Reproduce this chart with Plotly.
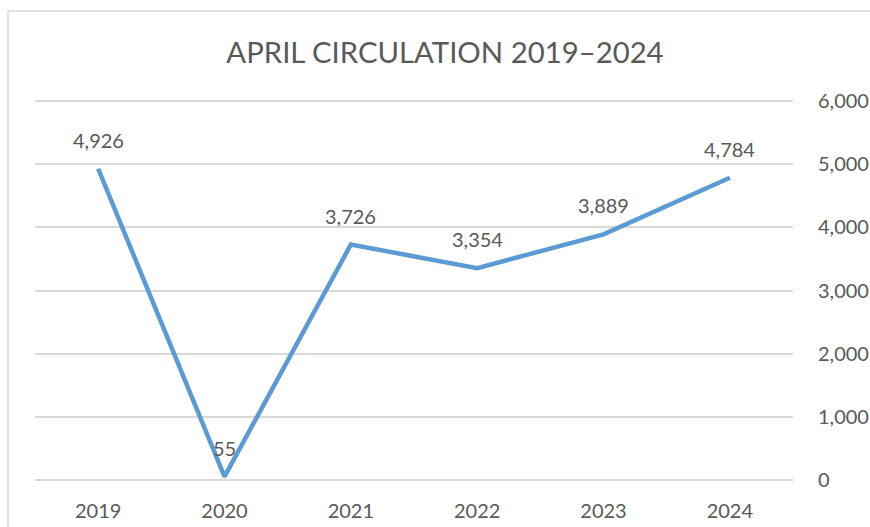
import plotly.graph_objects as go

years = ["2019", "2020", "2021", "2022", "2023", "2024"]
circulation = [4926, 55, 3726, 3354, 3889, 4784]
y_ticks = [0, 1000, 2000, 3000, 4000, 5000, 6000]
title_text = "APRIL CIRCULATION 2019–2024"

FONT = "Lato, sans-serif"
TXT = "#595959"
W, H = 870, 527

fig = go.Figure()
fig.add_trace(go.Scatter(
    x=years, y=circulation, mode="lines",
    line=dict(color="#5B9BD5", width=4.5),
    hoverinfo="skip", showlegend=False,
))

for i, v in enumerate(circulation):
    fig.add_annotation(
        x=i, y=v, xref="x", yref="y", text=f"{v:,}", showarrow=False,
        yshift=29, font=dict(family=FONT, size=20, color=TXT),
    )

fig.add_shape(type="rect", xref="paper", yref="paper",
              x0=-0.0356, x1=1.3, y0=-0.3, y1=1.2298,
              line=dict(color="#D9D9D9", width=1.5), layer="below")

fig.update_layout(
    width=W, height=H,
    margin=dict(l=35, r=77, t=99, b=45, autoexpand=False),
    paper_bgcolor="white", plot_bgcolor="white",
    title=dict(text=title_text, x=445/W, xref="container", xanchor="center",
               y=1 - 53/H, yref="container", yanchor="middle",
               font=dict(family=FONT, size=29.3, color=TXT)),
    xaxis=dict(type="category", range=[-0.5, 5.5], showgrid=False, automargin=False,
               showline=False, zeroline=False, ticks="outside", ticklen=11,
               tickcolor="rgba(0,0,0,0)",
               tickfont=dict(family=FONT, size=20, color=TXT)),
    yaxis=dict(side="right", range=[-30, 6030], tickvals=y_ticks, automargin=False,
               tickformat=",", showgrid=True, gridcolor="#D9D9D9", gridwidth=1.5,
               zeroline=False, showline=False, ticks="outside", ticklen=20,
               tickcolor="rgba(0,0,0,0)",
               tickfont=dict(family=FONT, size=20, color=TXT)),
)

fig.write_html(
    "out.html",
    config={"displayModeBar": False},
    post_script="document.body.style.margin='0';"
                "document.documentElement.style.overflow='hidden';",
)
